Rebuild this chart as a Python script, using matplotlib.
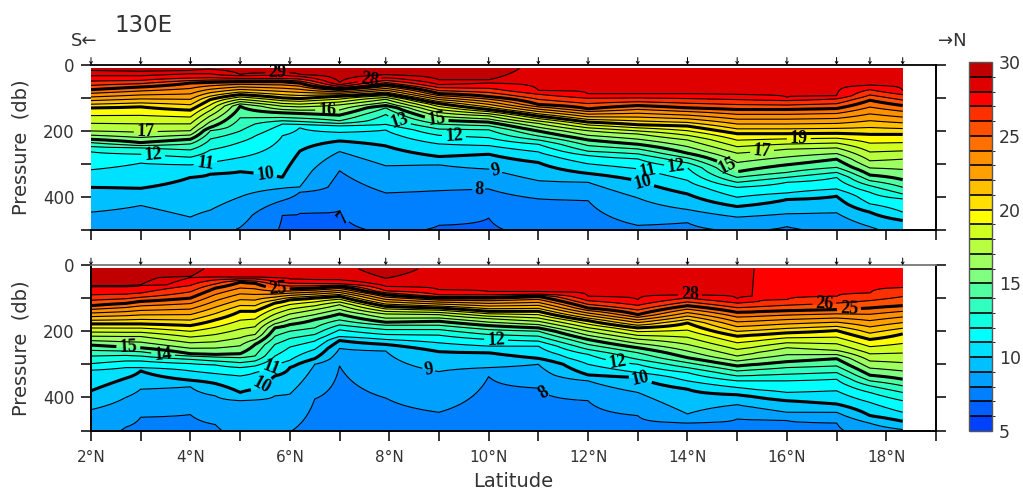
import numpy as np
import matplotlib
matplotlib.use("Agg")
import matplotlib.pyplot as plt
from matplotlib.colors import ListedColormap, BoundaryNorm

# 1. Data: depth (db) of each isotherm
stations = [2, 3, 4, 5, 6, 7, 7.93, 9, 10, 11, 12, 13, 14, 15, 16, 17, 17.67, 18.33]

lats_top = [2, 3, 4, 4.4, 5, 5.85, 6.2, 7, 7.93, 9, 10, 11, 12, 13, 14, 15, 16, 17, 17.67, 18.33]
top_t29 = [18, 21, 18, 14, 30, 24, 30, 54, 31, 46, 46, -60, -60, -60, -60, -60, -60, -60, -60, -60]
top_t28 = [34, 34, 28, 28, 34, 32, 36, 61, 40, 61, 56, 78, 89, 88, 88, 91, 99, 94, 63, 78]
top_t27 = [50, 48, 41, 40, 42, 42, 44, 66, 48, 70, 72, 90, 102, 101, 103, 106, 109, 104, 76, 91]
top_t25 = [76, 68, 56, 54, 52, 52, 56, 74, 61, 88, 97, 121, 134, 124, 131, 136, 136, 133, 108, 124]
top_t20 = [131, 128, 138, 106, 91, 101, 103, 96, 89, 118, 136, 156, 174, 182, 186, 209, 209, 208, 211, 211]
top_t17 = [201, 205, 200, 155, 112, 126, 128, 122, 105, 145, 155, 178, 200, 210, 228, 268, 256, 252, 291, 286]
top_t15 = [226, 236, 226, 190, 126, 146, 148, 153, 124, 168, 174, 201, 228, 241, 268, 324, 303, 286, 334, 348]
top_t14 = [236, 245, 240, 200, 161, 160, 162, 170, 131, 180, 185, 216, 245, 255, 282, 341, 326, 311, 351, 371]
top_t13 = [248, 252, 258, 225, 201, 170, 172, 178, 151, 195, 197, 228, 262, 270, 297, 356, 341, 326, 366, 391]
top_t12 = [264, 271, 280, 258, 235, 180, 181, 185, 181, 214, 221, 241, 275, 285, 312, 371, 356, 341, 386, 406]
top_t11 = [318, 298, 303, 296, 281, 215, 191, 205, 198, 240, 245, 264, 300, 315, 350, 401, 388, 376, 421, 446]
top_t10 = [371, 374, 341, 331, 324, 341, 262, 231, 246, 278, 271, 296, 329, 351, 391, 429, 408, 398, 446, 471]
top_t9 = [446, 426, 461, 440, 400, 374, 370, 263, 306, 303, 316, 351, 356, 403, 438, 461, 451, 448, 490, 525]
top_t8 = [540, 540, 540, 530, 492, 411, 386, 321, 388, 381, 376, 406, 411, 486, 478, 505, 490, 510, 540, 560]
top_t7 = [600, 600, 600, 600, 600, 456, 450, 442, 510, 486, 464, 520, 600, 600, 600, 600, 600, 600, 600, 600]

lats_bot = [2, 2.7, 3, 4, 4.5, 5, 5.3, 5.7, 6, 6.5, 7, 7.93, 9, 10, 11, 12, 13, 14, 15, 15.3, 15.42, 16, 17, 17.67, 18.33]
bot_t29 = [62, 62, 60, 35, -10, -40, -40, -40, -40, -40, -20, 40, -40, -40, -40, -40, -40, -40, -40, -200, -200, -200, -200, -200, -200]
bot_t28 = [65, 65, 62, 38, 36, 37, 36, 38, 42, 44, 45, 65, 75, 80, 80, 95, 105, 90, 102, 95, -100, -100, -100, -100, -10]
bot_t27 = [90, 88, 85, 62, 45, 42, 42, 50, 55, 56, 57, 78, 90, 90, 88, 108, 122, 100, 115, 112, 111, 105, 95, 85, 68]
bot_t25 = [123, 116, 110, 100, 70, 52, 55, 70, 72, 70, 65, 90, 100, 100, 95, 130, 150, 123, 143, 142, 141, 138, 135, 130, 123]
bot_t20 = [178, 178, 178, 183, 166, 140, 140, 115, 105, 100, 95, 125, 130, 140, 140, 168, 190, 175, 215, 212, 211, 205, 198, 225, 208]
bot_t17 = [215, 216, 216, 235, 232, 220, 210, 165, 148, 135, 120, 148, 150, 162, 170, 200, 224, 240, 275, 268, 264, 250, 258, 290, 295]
bot_t15 = [242, 248, 250, 268, 270, 268, 240, 190, 180, 165, 148, 173, 170, 183, 190, 225, 250, 280, 305, 301, 300, 292, 283, 333, 345]
bot_t14 = [258, 260, 262, 275, 278, 280, 275, 215, 200, 190, 166, 182, 182, 195, 200, 240, 265, 295, 320, 317, 316, 310, 305, 350, 365]
bot_t13 = [275, 273, 275, 285, 290, 295, 290, 240, 222, 210, 181, 195, 195, 210, 215, 255, 285, 310, 335, 334, 333, 330, 325, 365, 385]
bot_t12 = [298, 290, 290, 298, 302, 310, 305, 275, 248, 230, 196, 210, 212, 225, 230, 270, 300, 325, 350, 350, 350, 350, 345, 385, 410]
bot_t11 = [318, 310, 310, 320, 328, 335, 325, 305, 288, 255, 216, 225, 235, 245, 245, 300, 325, 350, 370, 375, 377, 385, 380, 415, 445]
bot_t10 = [380, 342, 320, 348, 358, 385, 375, 335, 310, 283, 228, 240, 262, 265, 282, 332, 340, 375, 392, 397, 400, 410, 420, 455, 472]
bot_t9 = [437, 400, 375, 368, 395, 410, 408, 395, 390, 300, 252, 260, 322, 310, 300, 350, 385, 450, 422, 429, 432, 445, 445, 478, 497]
bot_t8 = [540, 490, 460, 452, 482, 540, 530, 520, 505, 405, 305, 402, 445, 337, 372, 410, 455, 477, 465, 467, 467, 470, 477, 520, 540]

iso_temps = [29, 28, 27, 25, 20, 17, 15, 14, 13, 12, 11, 10, 9, 8]

top_labels = [(29, 5.75, 24), (28, 7.6, 46), (16, 6.75, 131), (17, 3.1, 201), (12, 3.25, 274),
              (11, 4.3, 296), (10, 5.5, 339), (13, 8.2, 171), (15, 8.96, 161), (12, 9.3, 221),
              (9, 10.15, 316), (8, 9.8, 376), (7, 7.1, 461), (19, 16.24, 218), (17, 15.5, 261),
              (15, 14.8, 311), (12, 13.76, 321), (11, 13.2, 321), (10, 13.1, 356)]
bot_labels = [(25, 5.75, 90), (15, 2.75, 252), (14, 3.45, 272), (11, 5.6, 305), (10, 5.4, 355),
              (9, 8.8, 312), (12, 10.15, 225), (8, 11.15, 372), (12, 12.6, 285), (10, 13.05, 345),
              (28, 14.05, 90), (26, 16.75, 112), (25, 17.25, 132)]

band_colors = ["#0040ff", "#0060ff", "#0080ff", "#00a0ff", "#00c0ff", "#00e0ff", "#00ffff",
               "#10ffe0", "#30ffc0", "#50ffa0", "#80ff80", "#a0ff60", "#b8ff40", "#d0ff20",
               "#ffff00", "#ffe000", "#ffc000", "#ffa000", "#ff9000", "#ff7000", "#ff5000",
               "#ff3000", "#ff0000", "#e00000", "#c00000"]

text_col = "#333333"
levels = np.arange(5, 31)
cmap = ListedColormap(band_colors)
norm = BoundaryNorm(levels, cmap.N)
pres = np.arange(12, 501, 2)


def temp_section(isos, n_lat, deep):
    # temperature on the pressure grid, station by station, from the isotherm depths
    T = np.zeros((len(pres), n_lat))
    for i in range(n_lat):
        depths = [isos[0][i] - 40] + [d[i] for d in isos] + [deep[i], 900]
        temps = [30] + iso_temps + [7, 6]
        T[:, i] = np.interp(pres, depths, temps)
    return T


def draw_panel(ax, lats, T, labels, top_color):
    cf = ax.contourf(lats, pres, T, levels=levels, cmap=cmap, norm=norm)
    # one contour set per level so a label goes on the level it was read from
    sets = {}
    for lv in range(7, 30):
        sets[lv] = ax.contour(lats, pres, T, levels=[lv], colors="k",
                              linewidths=2.2 if lv % 5 == 0 else 0.8)
    for lv, x, y in labels:
        ax.clabel(sets[lv], [lv], manual=[(x, y)], fmt="%d", fontsize=13, inline=True, inline_spacing=1)
    for t in ax.texts:
        t.set_family("Liberation Serif")
        t.set_fontweight("bold")

    ax.set_xlim(2, 19)
    ax.set_ylim(500, 0)
    ax.set_xticks(np.arange(2, 20))
    ax.set_yticks(np.arange(0, 501, 100))
    ax.set_yticklabels(["0", "", "200", "", "400", ""])
    ax.tick_params(axis="both", length=7, width=1.1, labelsize=12, labelcolor=text_col, pad=5)
    ax.tick_params(axis="x", pad=7)
    ax.tick_params(axis="y", right=True)
    ax.set_ylabel("Pressure  (db)", fontsize=14, color=text_col, labelpad=9)
    ax.spines["top"].set_color(top_color)
    ax.spines["top"].set_linewidth(1.3)
    ax.spines["bottom"].set_linewidth(1.4)
    ax.spines["right"].set_linewidth(1.4)
    for lat in stations:
        ax.annotate("", xy=(lat, 0), xytext=(0, 5), textcoords="offset points", annotation_clip=False,
                    arrowprops=dict(arrowstyle="->,head_length=0.15,head_width=0.1", lw=0.7,
                                    color="k", shrinkA=0, shrinkB=0))
    return cf


# 2. Build the figure
W, H = 1023, 491
fig = plt.figure(figsize=(W / 100, H / 100), dpi=100)
ax_top = fig.add_axes([91 / W, 1 - 230 / H, 845 / W, 165.5 / H])
ax_bot = fig.add_axes([91 / W, 1 - 430.5 / H, 845 / W, 165.5 / H])

T_top = temp_section([top_t29, top_t28, top_t27, top_t25, top_t20, top_t17, top_t15, top_t14,
                      top_t13, top_t12, top_t11, top_t10, top_t9, top_t8], len(lats_top), top_t7)
T_bot = temp_section([bot_t29, bot_t28, bot_t27, bot_t25, bot_t20, bot_t17, bot_t15, bot_t14,
                      bot_t13, bot_t12, bot_t11, bot_t10, bot_t9, bot_t8], len(lats_bot), [650] * len(lats_bot))

cf = draw_panel(ax_top, lats_top, T_top, top_labels, "k")
draw_panel(ax_bot, lats_bot, T_bot, bot_labels, "#777777")

ax_top.spines["left"].set_visible(False)
ax_top.set_xticklabels([])
ax_bot.spines["left"].set_linewidth(1.4)
ax_bot.set_xticklabels([f"{v}°N" if v % 2 == 0 and v < 19 else "" for v in range(2, 20)], fontsize=11)
ax_bot.set_xlabel("Latitude", fontsize=14, color=text_col, labelpad=5)

# 3. Colour bar
cax = fig.add_axes([969 / W, 1 - 431 / H, 23 / W, 369 / H])
cb = fig.colorbar(cf, cax=cax, drawedges=True, ticks=np.arange(5, 31, 5))
cb.dividers.set_color("k")
cb.dividers.set_linewidth(1.2)
cb.outline.set_edgecolor("#555555")
cb.outline.set_linewidth(1.0)
cax.tick_params(length=0, labelsize=12.5, labelcolor=text_col, pad=5)

# 4. Headings
fig.text(114 / W, 1 - 32 / H, "130E", fontsize=16.5, color=text_col, va="baseline")
fig.text(71 / W, 1 - 41 / H, "S←", fontsize=13, color=text_col, va="center")
fig.text(938 / W, 1 - 41 / H, "→N", fontsize=13, color=text_col, va="center")

plt.savefig("out.png", dpi=100)
plt.close()
